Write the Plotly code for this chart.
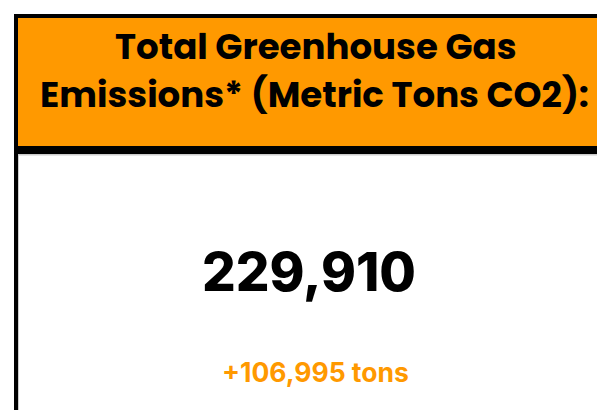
import plotly.graph_objects as go

# Data
title_lines = ["Total Greenhouse Gas", "Emissions* (Metric Tons CO2):"]
total_emissions = 229910
change_tons = 106995
unit = "tons"

W, H = 605, 410
ORANGE = "#FF9900"

def px(x):
    return x / W

def py(y):
    return 1 - y / H

fig = go.Figure()

shapes = [
    dict(type="rect", xref="paper", yref="paper", x0=px(6), x1=px(W + 5), y0=py(146), y1=py(6),
         fillcolor="black", line=dict(width=0), layer="below"),
    dict(type="rect", xref="paper", yref="paper", x0=px(10), x1=px(W + 5), y0=py(138), y1=py(10),
         fillcolor=ORANGE, line=dict(width=0), layer="below"),
    dict(type="rect", xref="paper", yref="paper", x0=px(6), x1=px(10), y0=py(H + 5), y1=py(146),
         fillcolor="black", line=dict(width=0), layer="below"),
    dict(type="rect", xref="paper", yref="paper", x0=px(10), x1=px(11), y0=py(H + 5), y1=py(146),
         fillcolor="#cccccc", line=dict(width=0), layer="below"),
    dict(type="rect", xref="paper", yref="paper", x0=px(10), x1=px(W), y0=py(147.5), y1=py(146),
         fillcolor="#cccccc", line=dict(width=0), layer="below"),
    dict(type="rect", xref="paper", yref="paper", x0=px(603.5), x1=px(605), y0=py(H + 5), y1=py(146),
         fillcolor="#c8c8c8", line=dict(width=0), layer="below"),
]

annotations = [
    dict(text=title_lines[0], xref="paper", yref="paper", x=px(308), y=py(39), xanchor="center", yanchor="middle",
         showarrow=False, font=dict(family="Poppins, DejaVu Sans", size=35.6, color="black", weight="bold")),
    dict(text=title_lines[1], xref="paper", yref="paper", x=px(306), y=py(87), xanchor="center", yanchor="middle",
         showarrow=False, font=dict(family="Poppins, DejaVu Sans", size=35.6, color="black", weight="bold")),
    dict(text=f"{total_emissions:,}", xref="paper", yref="paper", x=px(301), y=py(264), xanchor="center", yanchor="middle",
         showarrow=False, font=dict(family="Inter", size=53, color="black", weight=800)),
    dict(text=f"+{change_tons:,} {unit}", xref="paper", yref="paper", x=px(307), y=py(364), xanchor="center", yanchor="middle",
         showarrow=False, font=dict(family="Inter", size=26.5, color=ORANGE, weight="bold")),
]

fig.update_layout(
    width=W, height=H,
    margin=dict(l=0, r=0, t=0, b=0),
    paper_bgcolor="white", plot_bgcolor="white",
    xaxis=dict(visible=False), yaxis=dict(visible=False),
    shapes=shapes, annotations=annotations,
    showlegend=False,
)

fig.write_html("out.html")
